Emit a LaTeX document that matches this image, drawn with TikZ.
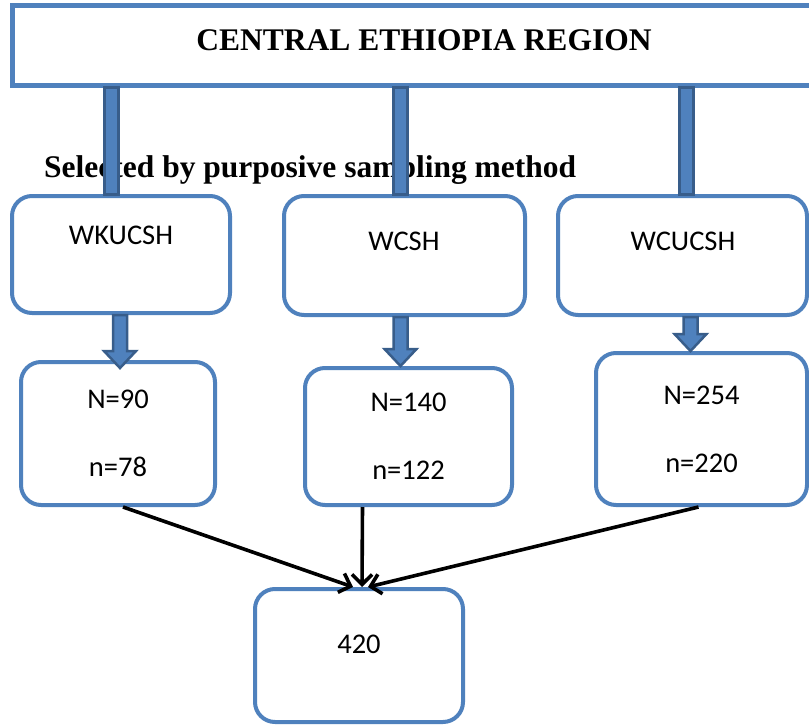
\documentclass[tikz,border=0pt]{standalone}
\usepackage{fontspec}
\setmainfont{Liberation Serif}
\newfontfamily\boxfont{Carlito}
\usetikzlibrary{arrows.meta, positioning, calc}
\definecolor{box-border}{HTML}{4F81BD}
\definecolor{bar-fill}{HTML}{4F81BD}
\definecolor{bar-border}{HTML}{385D8A}
\definecolor{arrow}{HTML}{000000}
\tikzset{
  region-box/.style={
    draw=box-border, line width=5pt, fill=white,
    minimum width=830pt, minimum height=80pt, inner sep=0pt
  },
  site-box/.style={
    draw=box-border, line width=4pt, fill=white, rounded corners=20pt,
    inner sep=0pt, align=center, font=\boxfont\fontsize{28.5}{34}\selectfont
  },
  box-text/.style={font=\boxfont\fontsize{28.5}{34}\selectfont, inner sep=0pt, anchor=base},
  head-text/.style={font=\bfseries\fontsize{31.5}{37}\selectfont, inner sep=0pt, anchor=base},
  fat-bar/.style={
    draw=bar-border, fill=bar-fill, line width=3pt,
    to path={let \p1=(\tikztostart), \p2=(\tikztotarget) in
      (\x1-7pt,\y1) rectangle (\x1+7pt,\y2)}
  },
  fat-arrow/.style={
    draw=bar-border, fill=bar-fill, line width=2.5pt, line join=miter,
    to path={let \p1=(\tikztostart), \p2=(\tikztotarget) in
      (\x1-7pt,\y1) -- (\x1+7pt,\y1) -- (\x1+7pt,\y2+17pt) -- (\x1+16pt,\y2+17pt)
      -- (\x1,\y2) -- (\x1-16pt,\y2+17pt) -- (\x1-7pt,\y2+17pt) -- cycle}
  },
  sum-edge/.style={-{Straight Barb[length=10pt, width=20pt]}, line width=3.6pt, draw=arrow}
}

\begin{document}
\begin{tikzpicture}[x=1pt, y=-1pt]
  \useasboundingbox (0,0) rectangle (809,726);
  \clip (0,0) rectangle (809,726);

  % Region box (runs off the right edge)
  \node[region-box] (region) at (427,45) {};
  \node[head-text] (region-label) at (424,50) {CENTRAL ETHIOPIA REGION};
  \node[head-text, anchor=base west] (method) at (44,177) {Selected by purposive sampling method};

  % Colleges
  \node[site-box, minimum width=218pt, minimum height=117pt] (wkucsh) at (121,254.5) {};
  \node[site-box, minimum width=241pt, minimum height=119pt] (wcsh) at (404.5,255.5) {};
  \node[site-box, minimum width=249pt, minimum height=119pt] (wcucsh) at (682.5,255.5) {};
  \node[box-text] (wkucsh-label) at (121,244) {WKUCSH};
  \node[box-text] (wcsh-label) at (404,250) {WCSH};
  \node[box-text] (wcucsh-label) at (683,250) {WCUCSH};

  % Population and sample per college
  \node[site-box, minimum width=194pt, minimum height=143pt] (n90) at (118,433.5) {N=90\\[34pt]n=78};
  \node[site-box, minimum width=207pt, minimum height=137pt] (n140) at (408.5,436.5) {N=140\\[34pt]n=122};
  \node[site-box, minimum width=211pt, minimum height=152pt] (n254) at (701.5,429) {N=254\\[34pt]n=220};

  % Total sample
  \node[site-box, minimum width=208pt, minimum height=133pt] (total) at (359,655.5) {};
  \node[box-text] (total-label) at (359,653) {420};

  % Bars from the region down to the colleges
  \draw[fat-bar] ([xshift=-10pt]wkucsh.north |- region.south) to ([xshift=-10pt]wkucsh.north);
  \draw[fat-bar] ([xshift=-4.5pt]wcsh.north |- region.south) to ([xshift=-4.5pt]wcsh.north);
  \draw[fat-bar] ([xshift=3.5pt]wcucsh.north |- region.south) to ([xshift=3.5pt]wcucsh.north);

  % Thick arrows college -> sample
  \draw[fat-arrow] ([xshift=-1pt]wkucsh.south) to ([yshift=-8pt]n90.north);
  \draw[fat-arrow] ([xshift=-4pt]wcsh.south) to (n140.north);
  \draw[fat-arrow] ([xshift=8pt]wcucsh.south) to (n254.north);

  % Samples into the total
  \draw[sum-edge] ([xshift=5pt]n90.south) -- ([xshift=-6pt]total.north);
  \draw[sum-edge] ([xshift=-46pt]n140.south) -- ([xshift=3pt]total.north);
  \draw[sum-edge] ([xshift=-3pt]n254.south) -- ([xshift=9pt]total.north);
\end{tikzpicture}
\end{document}
